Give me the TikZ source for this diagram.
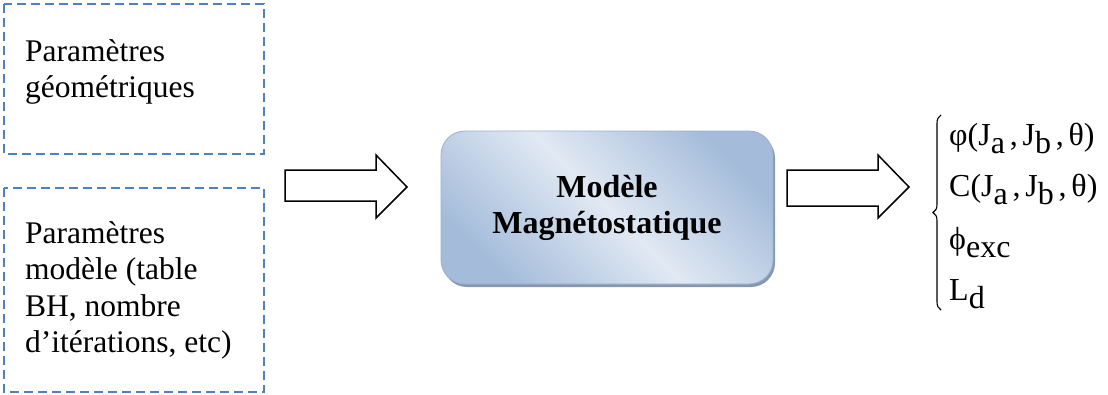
\documentclass[tikz,border=0pt]{standalone}
\usepackage{fontspec}
\setmainfont{Liberation Serif}
\usetikzlibrary{positioning,decorations.pathreplacing,shadows}

\definecolor{dashblue}{HTML}{4F81BD}
\definecolor{modlight}{HTML}{E1E9F3}
\definecolor{moddark}{HTML}{A4BCDA}
\definecolor{modedge}{HTML}{9AB0CE}
\definecolor{modshadow}{HTML}{8797B0}

\newcommand{\lowidx}[1]{\raisebox{-0.26em}{#1}}
\newcommand{\linesof}[1]{\begin{tabular}[t]{@{}l@{}}#1\end{tabular}}

\tikzset{
  parambox/.style={draw=dashblue, line width=2.6pt, dash pattern=on 9pt off 5pt},
  boxtext/.style={anchor=base west, inner sep=0pt, font=\fontsize{31.5}{36.5}\selectfont},
  outtext/.style={anchor=base west, inner sep=0pt, font=\fontsize{32}{36.5}\selectfont},
  modelbox/.style={minimum width=332pt, minimum height=153pt, rounded corners=24pt,
    align=center, font=\bfseries\fontsize{32}{36}\selectfont, draw=modedge, line width=0.8pt,
    top color=moddark, bottom color=moddark, middle color=modlight, shading angle=-45,
    drop shadow={shadow xshift=2pt, shadow yshift=-3pt, fill=modshadow, opacity=1}},
  blockarrow/.style={draw=black, line width=1.5pt, fill=white, line join=miter},
}

\begin{document}
\begin{tikzpicture}[x=1pt,y=-1pt]
\useasboundingbox (0,0) rectangle (1108,394);
% input parameters
\draw[parambox] (4,4) rectangle (264,154);
\draw[parambox] (4,188) rectangle (264,392);
\node[boxtext] (geom) at (25,61) {\linesof{Paramètres\\géométriques}};
\node[boxtext] (numparam) at (25,243) {\linesof{Paramètres\\modèle (table\\BH, nombre\\d’itérations, etc)}};
% model
\node[modelbox] (model) at (607,207.5) {Modèle\\Magnétostatique};
% block arrows
\foreach \dx/\sb in {0/201,502/206}
  \draw[blockarrow] (285+\dx,170) -- (376+\dx,170) -- (376+\dx,155) -- (407+\dx,187)
    -- (376+\dx,218) -- (376+\dx,\sb) -- (285+\dx,\sb) -- cycle;
% outputs
\draw[decorate, decoration={brace, amplitude=8pt}, line width=1.1pt] (941,310) -- (941,115);
\node[outtext] (phi) at (949,145) {φ(J\lowidx{a}\kern0.15em,\kern0.15em J\lowidx{b}\kern0.15em,\kern0.15em θ)};
\node[outtext] (torque) at (949,196) {C(J\lowidx{a}\kern0.15em,\kern0.15em J\lowidx{b}\kern0.15em,\kern0.15em θ)};
\node[outtext] (flux) at (949,249) {ϕ\lowidx{exc}};
\node[outtext] (induct) at (949,300) {L\lowidx{d}};
\end{tikzpicture}
\end{document}
